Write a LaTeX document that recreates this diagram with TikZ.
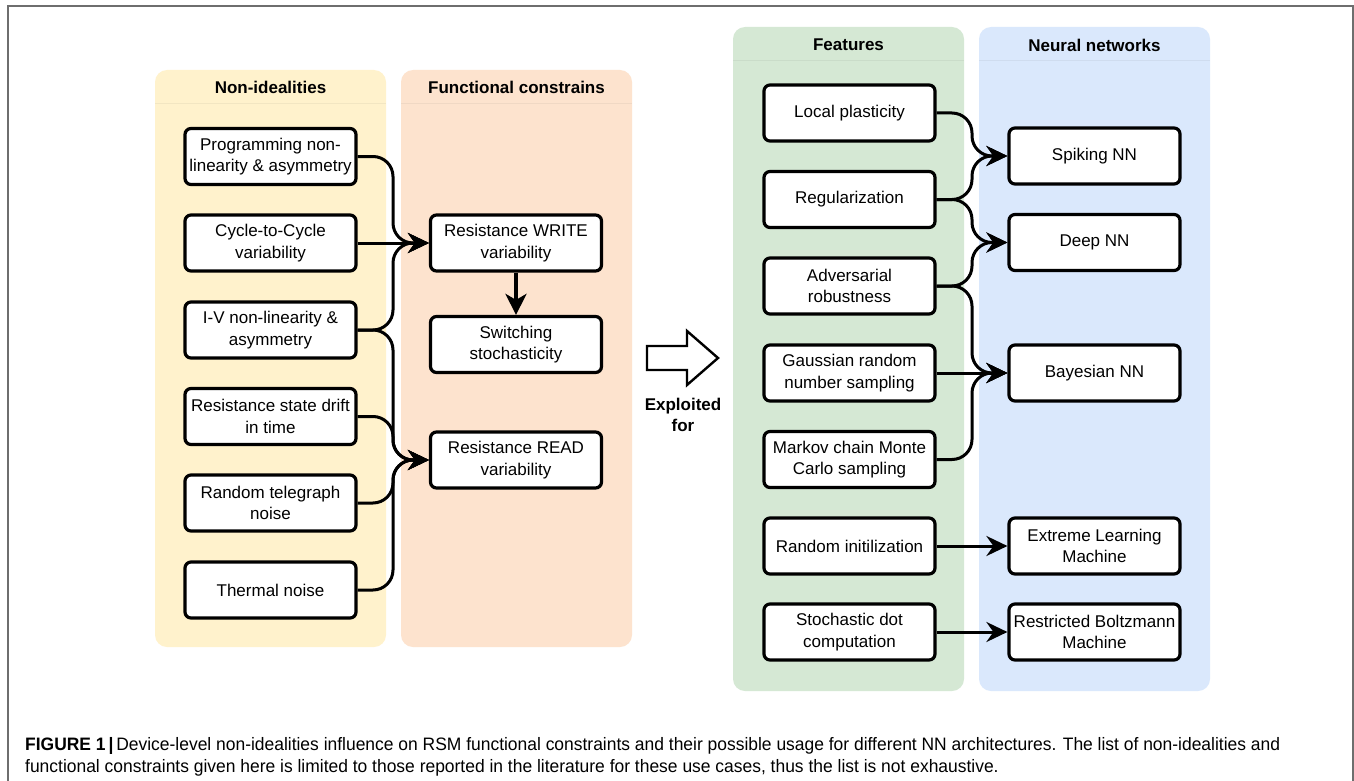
\documentclass[tikz,border=0pt]{standalone}
\usepackage{fontspec}
\setmainfont{Liberation Sans}
\usetikzlibrary{arrows.meta,calc}
\definecolor{laneY}{HTML}{FFF2CC}
\definecolor{laneO}{HTML}{FDE3CE}
\definecolor{laneG}{HTML}{D5E8D4}
\definecolor{laneB}{HTML}{DAE8FC}
\definecolor{framecol}{HTML}{6E6E6E}
\definecolor{captext}{HTML}{1E1E1E}
\newcommand\boxfont{\fontsize{17}{21.5}\selectfont}
\newcommand\hdrfont{\fontsize{17}{21.5}\selectfont\bfseries}
\newcommand\capfont{\fontsize{18}{22}\selectfont}
\newsavebox\capboxA
\newsavebox\capboxB
\tikzset{
  lane/.style={rounded corners=12pt},
  box/.style={draw, line width=3.2pt, rounded corners=6pt, fill=white,
    minimum width=171pt, minimum height=56pt, align=center, font=\boxfont, inner sep=0pt},
  hdr/.style={font=\hdrfont, inner sep=0pt},
  tipA/.tip={Stealth[length=21pt, width=20pt, inset=7pt]},
  conn/.style={line width=3pt, rounded corners=20pt, -tipA},
  thickconn/.style={line width=4.2pt, -{Stealth[length=21pt, width=21pt, inset=6pt]}},
}
\begin{document}
\sbox\capboxA{\capfont\textbf{FIGURE 1\,|}\,Device-level non-idealities influence on RSM functional constraints and their possible usage for different NN architectures. The list of non-idealities and}%
\sbox\capboxB{\capfont functional constraints given here is limited to those reported in the literature for these use cases, thus the list is not exhaustive.}%
\pgfmathsetmacro\capscale{1255/\the\wd\capboxA}%
\begin{tikzpicture}[x=1pt,y=-1pt]
\useasboundingbox (0,0) rectangle (1354,781);
\fill[white] (0,0) rectangle (1354,781);
\draw[framecol, line width=2pt] (8,781) -- (8,6) -- (1353,6) -- (1353,781);

% lanes
\fill[laneY, lane] (155,70) rectangle (386,647);
\fill[laneO, lane] (401,70) rectangle (632,647);
\fill[laneG, lane] (733,27) rectangle (964,691);
\fill[laneB, lane] (979,27) rectangle (1210,691);
\draw[laneY!95!black, line width=0.5pt] (155,103) -- (386,103);
\draw[laneO!95!black, line width=0.5pt] (401,103) -- (632,103);
\draw[laneG!95!black, line width=0.5pt] (733,60) -- (964,60);
\draw[laneB!95!black, line width=0.5pt] (979,60) -- (1210,60);

\node[hdr] (h1) at (270.5,87) {Non-idealities};
\node[hdr] (h2) at (516.5,87) {Functional constrains};
\node[hdr] (h3) at (848.5,45) {Features};
\node[hdr] (h4) at (1094.5,45) {Neural networks};

% non-idealities
\node[box] (pnl) at (270.5,156.5) {Programming non-\\linearity \& asymmetry};
\node[box] (ctc) at (270.5,243) {Cycle-to-Cycle\\variability};
\node[box] (ivn) at (270.5,330) {I-V non-linearity \&\\asymmetry};
\node[box] (rsd) at (270.5,416.5) {Resistance state drift\\in time};
\node[box] (rtn) at (270.5,503) {Random telegraph\\noise};
\node[box] (thn) at (270.5,590) {Thermal noise};

% functional constraints
\node[box] (rwv) at (516,243) {Resistance WRITE\\variability};
\node[box] (sws) at (516,344.5) {Switching\\stochasticity};
\node[box] (rrv) at (516,460) {Resistance READ\\variability};

% features
\node[box] (lpl) at (849.5,113) {Local plasticity};
\node[box] (reg) at (849.5,199.5) {Regularization};
\node[box] (adv) at (849.5,286) {Adversarial\\robustness};
\node[box] (grn) at (849.5,373) {Gaussian random\\number sampling};
\node[box] (mcm) at (849.5,459.5) {Markov chain Monte\\Carlo sampling};
\node[box] (rin) at (849.5,546) {Random initilization};
\node[box] (sdc) at (849.5,632) {Stochastic dot\\computation};

% neural networks
\node[box] (snn) at (1094.5,156) {Spiking NN};
\node[box] (dnn) at (1094.5,242.5) {Deep NN};
\node[box] (bnn) at (1094.5,373) {Bayesian NN};
\node[box] (elm) at (1094.5,546) {Extreme Learning\\Machine};
\node[box] (rbm) at (1094.5,632) {Restricted Boltzmann\\Machine};

\coordinate (mL) at (393,0);
\coordinate (mR) at (972,0);

% connectors left
\draw[conn] (pnl.east) -- (pnl.east -| mL) -- (mL |- rwv.west) -- (rwv.west);
\draw[conn] (ctc.east) -- (rwv.west);
\draw[conn] (ivn.east) -- (ivn.east -| mL) -- (mL |- rwv.west) -- (rwv.west);
\draw[conn] (ivn.east) -- (ivn.east -| mL) -- (mL |- rrv.west) -- (rrv.west);
\draw[conn] (rsd.east) -- (rsd.east -| mL) -- (mL |- rrv.west) -- (rrv.west);
\draw[conn] (rtn.east) -- (rtn.east -| mL) -- (mL |- rrv.west) -- (rrv.west);
\draw[conn] (thn.east) -- (thn.east -| mL) -- (mL |- rrv.west) -- (rrv.west);
\draw[thickconn] (rwv.south) -- (sws.north);

% connectors right
\draw[conn] (lpl.east) -- (lpl.east -| mR) -- (mR |- snn.west) -- (snn.west);
\draw[conn] (reg.east) -- (reg.east -| mR) -- (mR |- snn.west) -- (snn.west);
\draw[conn] (reg.east) -- (reg.east -| mR) -- (mR |- dnn.west) -- (dnn.west);
\draw[conn] (adv.east) -- (adv.east -| mR) -- (mR |- dnn.west) -- (dnn.west);
\draw[conn] (adv.east) -- (adv.east -| mR) -- (mR |- bnn.west) -- (bnn.west);
\draw[conn] (grn.east) -- (bnn.west);
\draw[conn] (mcm.east) -- (mcm.east -| mR) -- (mR |- bnn.west) -- (bnn.west);
\draw[conn] (rin.east) -- (elm.west);
\draw[conn] (sdc.east) -- (rbm.west);

% exploited arrow
\draw[line width=2.4pt, fill=white, line join=miter] (647,346) -- (687,346) -- (687,331) -- (718,358) -- (687,385) -- (687,370) -- (647,370) -- cycle;
\node[font=\hdrfont, align=center, inner sep=0pt] (expl) at (683,415) {Exploited\\for};

% caption
\node[anchor=base west, inner sep=0pt, text=captext] (cap1) at (25,750) {\scalebox{\capscale}[1]{\usebox\capboxA}};
\node[anchor=base west, inner sep=0pt, text=captext] (cap2) at (25,772) {\scalebox{\capscale}[1]{\usebox\capboxB}};
\end{tikzpicture}
\end{document}
